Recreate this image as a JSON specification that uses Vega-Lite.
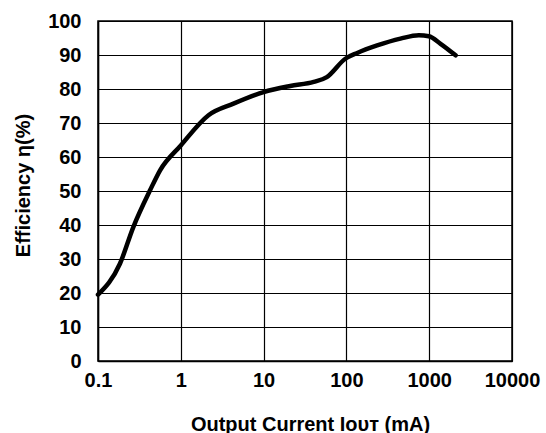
{
  "$schema": "https://vega.github.io/schema/vega-lite/v6.json",
  "autosize": {"type": "none"},
  "padding": {"left": 98, "top": 21, "right": 34, "bottom": 72},
  "width": 414,
  "height": 340,
  "config": {
    "view": {"stroke": "#000", "strokeWidth": 1.5},
    "font": "Liberation Sans",
    "axis": {
      "gridColor": "#000", "gridOpacity": 1, "gridWidth": 1.2,
      "domainColor": "#000", "domainWidth": 1.5,
      "ticks": false, "labelFlush": false,
      "labelFont": "Liberation Sans", "labelFontSize": 20, "labelFontWeight": "bold", "labelColor": "#000",
      "titleFont": "Liberation Sans", "titleFontSize": 20, "titleFontWeight": "bold", "titleColor": "#000"
    }
  },
  "data": {"values": [
    {"i": 0.1, "eff": 19.5},
    {"i": 0.184, "eff": 28.6},
    {"i": 0.267, "eff": 39.4},
    {"i": 0.425, "eff": 50.2},
    {"i": 0.562, "eff": 56.1},
    {"i": 1.0, "eff": 63.4},
    {"i": 2.16, "eff": 72.3},
    {"i": 4.33, "eff": 75.7},
    {"i": 10, "eff": 79.1},
    {"i": 21, "eff": 80.9},
    {"i": 40.3, "eff": 82.1},
    {"i": 58, "eff": 83.5},
    {"i": 97, "eff": 88.9},
    {"i": 135, "eff": 90.6},
    {"i": 235, "eff": 92.8},
    {"i": 450, "eff": 94.8},
    {"i": 750, "eff": 95.8},
    {"i": 990, "eff": 95.5},
    {"i": 1371, "eff": 93.3},
    {"i": 2085, "eff": 89.9}
  ]},
  "mark": {"type": "line", "color": "#000", "strokeWidth": 4.5, "interpolate": "monotone", "strokeCap": "round"},
  "encoding": {
    "x": {
      "field": "i", "type": "quantitative",
      "scale": {"type": "log", "domain": [0.1, 10000], "nice": false},
      "axis": {"values": [0.1, 1, 10, 100, 1000, 10000], "format": "~g", "labelPadding": 9,
               "title": "Output Current Iᴏᴜᴛ (mA)", "titleX": 212, "titleY": 63, "titleBaseline": "middle"}
    },
    "y": {
      "field": "eff", "type": "quantitative",
      "scale": {"domain": [0, 100], "nice": false},
      "axis": {"values": [0, 10, 20, 30, 40, 50, 60, 70, 80, 90, 100], "labelPadding": 17,
               "title": "Efficiency η(%)", "titleX": -75, "titleY": 164, "titleAngle": -90, "titleBaseline": "middle", "titleAlign": "center"}
    }
  }
}
